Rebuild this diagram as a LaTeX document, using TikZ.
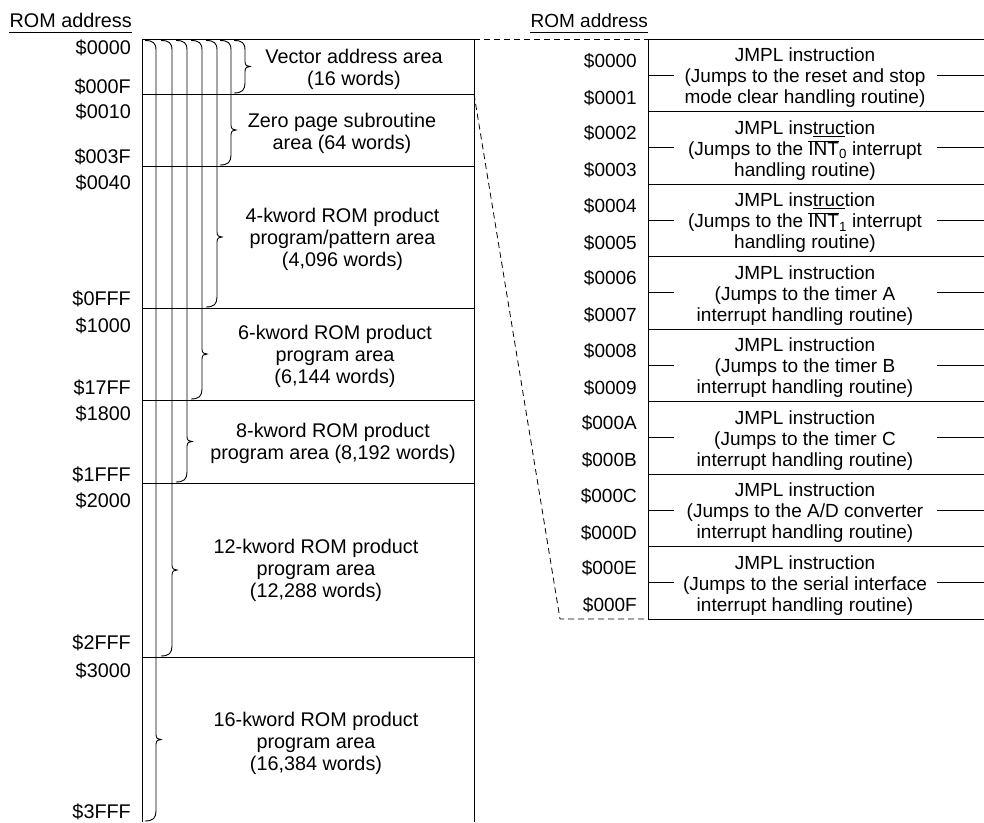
\documentclass[tikz,border=0pt]{standalone}
\usepackage{fontspec}
\setmainfont{Liberation Sans}
\usetikzlibrary{positioning}
\tikzset{
    %Define style for address labels
    addr/.style={
           anchor=base east,
           inner sep=0pt,
           font=\fontsize{19.8}{22}\selectfont},
    raddr/.style={
           addr,
           font=\fontsize{19}{21}\selectfont},
    %Define style for area texts
    areatext/.style={
           align=center,
           inner sep=0pt,
           font=\fontsize{19.8}{22}\selectfont},
    jmptext/.style={
           align=center,
           inner sep=0pt,
           font=\fontsize{19}{21}\selectfont},
    % Define line styles
    boxline/.style={line width=1pt},
    bracket/.style={line width=0.9pt},
    tickline/.style={line width=0.9pt},
    zoomline/.style={line width=0.8pt, dash pattern=on 6pt off 4pt}
}
% brace: x, top, tip, bottom
\newcommand{\rombrace}[4]{
  \draw[bracket] ({#1-11},{#2+1.5}) .. controls ({#1-3},{#2+1.5}) and (#1,{#2+4}) .. (#1,{#2+11})
    -- (#1,{#3-5}) .. controls (#1,{#3-1}) and ({#1+2},#3) .. ({#1+5},#3)
    .. controls ({#1+2},#3) and (#1,{#3+1}) .. (#1,{#3+5})
    -- (#1,{#4-11}) .. controls (#1,{#4-4}) and ({#1-3},{#4-1}) .. ({#1-11},{#4-1});
}

\begin{document}
\begin{tikzpicture}[x=1pt,y=-1pt]
\useasboundingbox (0,0) rectangle (984,822);

 %headers
\node[addr] (hdrL) at (132,27) {ROM address};
\node[raddr] (hdrR) at (648,27) {ROM address};
\draw[tickline] ([yshift=-5pt]hdrL.base west) -- ([yshift=-5pt]hdrL.base east);
\draw[tickline] ([yshift=-5pt]hdrR.base west) -- ([yshift=-5pt]hdrR.base east);

 %left memory map
\draw[boxline] (142,822) -- (142,39) -- (474,39) -- (474,822);
\foreach \y in {94,166,308,400,483,657}
  \draw[boxline] (142,\y) -- (474,\y);

\node[addr] (a0000) at (131,54.5) {\$0000};
\node[addr] (a000F) at (131,93) {\$000F};
\node[addr] (a0010) at (131,118) {\$0010};
\node[addr] (a003F) at (131,163) {\$003F};
\node[addr] (a0040) at (131,189) {\$0040};
\node[addr] (a0FFF) at (131,305) {\$0FFF};
\node[addr] (a1000) at (131,332) {\$1000};
\node[addr] (a17FF) at (131,394) {\$17FF};
\node[addr] (a1800) at (131,420) {\$1800};
\node[addr] (a1FFF) at (131,481) {\$1FFF};
\node[addr] (a2000) at (131,507) {\$2000};
\node[addr] (a2FFF) at (131,649) {\$2FFF};
\node[addr] (a3000) at (131,677) {\$3000};
\node[addr] (a3FFF) at (131,818) {\$3FFF};

\rombrace{245}{39}{66.5}{94}
\rombrace{231}{39}{130}{166}
\rombrace{217}{39}{237}{308}
\rombrace{202}{39}{354}{400}
\rombrace{187}{39}{441.5}{483}
\rombrace{172}{39}{570}{657}
\rombrace{156}{39}{739.5}{822}

\node[areatext] (vector) at (354,69.5) {Vector address area\\(16 words)};
\node[areatext] (zeropage) at (342,133) {Zero page subroutine\\area (64 words)};
\node[areatext] (rom4k) at (342.5,239) {4-kword ROM product\\program/pattern area\\(4,096 words)};
\node[areatext] (rom6k) at (335,356) {6-kword ROM product\\program area\\(6,144 words)};
\node[areatext] (rom8k) at (333,443.5) {8-kword ROM product\\program area (8,192 words)};
\node[areatext] (rom12k) at (316,570) {12-kword ROM product\\program area\\(12,288 words)};
\node[areatext] (rom16k) at (316,743) {16-kword ROM product\\program area\\(16,384 words)};

 %right vector table
\draw[boxline] (648,39) -- (648,619);
\foreach \k in {0,...,8}
  \draw[boxline] (648,{39+72.5*\k}) -- (984,{39+72.5*\k});
\foreach \k/\lo/\hi/\first/\body in {
    0/0000/0001/{JMPL instruction}/{(Jumps to the reset and stop\\mode clear handling routine)},
    1/0002/0003/{JMPL ins\underline{truc}tion}/{(Jumps to the $\overline{\mbox{INT}}$\textsubscript{0} interrupt\\handling routine)},
    2/0004/0005/{JMPL ins\underline{truc}tion}/{(Jumps to the $\overline{\mbox{INT}}$\textsubscript{1} interrupt\\handling routine)},
    3/0006/0007/{JMPL instruction}/{(Jumps to the timer A\\interrupt handling routine)},
    4/0008/0009/{JMPL instruction}/{(Jumps to the timer B\\interrupt handling routine)},
    5/000A/000B/{JMPL instruction}/{(Jumps to the timer C\\interrupt handling routine)},
    6/000C/000D/{JMPL instruction}/{(Jumps to the A/D converter\\interrupt handling routine)},
    7/000E/000F/{JMPL instruction}/{(Jumps to the serial interface\\interrupt handling routine)}}
{
  \node[raddr] (r\lo) at (637,{39+72.5*\k+28}) {\$\lo};
  \node[raddr] (r\hi) at (637,{39+72.5*\k+65}) {\$\hi};
  \node[jmptext] (jmp\k) at (805,{39+72.5*\k+39}) {\first\\\body};
  \draw[tickline] (648,{39+72.5*\k+36}) -- (674,{39+72.5*\k+36});
  \draw[tickline] (937,{39+72.5*\k+36}) -- (984,{39+72.5*\k+36});
}

 %zoom lines
\coordinate (lt) at (474,39);
\coordinate (lz) at (474,94);
\coordinate (rt) at (648,39);
\coordinate (rb) at (648,619);
\coordinate (bend) at (560,619);
\draw[zoomline] (lt) -- (rt);
\draw[zoomline] (lz) -- (bend) -- (rb);
\end{tikzpicture}
\end{document}
